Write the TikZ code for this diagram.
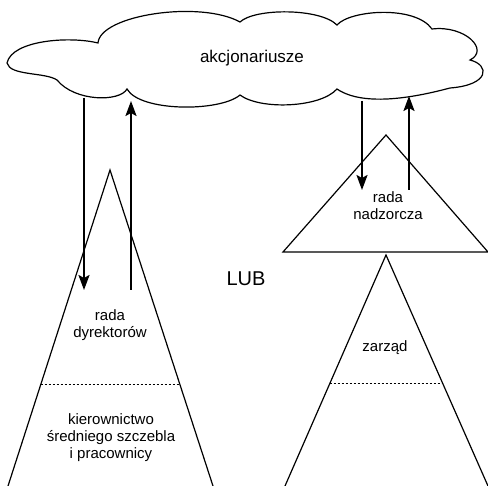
\documentclass[tikz,border=0pt]{standalone}
\usepackage{fontspec}
\setmainfont{Liberation Sans}
\usetikzlibrary{arrows.meta,calc}

\tikzset{
  flow/.style={line width=2.2pt,-{Stealth[length=15pt,width=11pt,inset=3pt]}},
  level/.style={line width=1.2pt},
  split/.style={line width=1.1pt,dash pattern=on 2pt off 2pt},
  label/.style={font=\fontsize{15}{17}\selectfont,align=center}
}

\begin{document}
\begin{tikzpicture}[x=1pt,y=-1pt]
  \useasboundingbox (0,0) rectangle (488,486);

  % Cloud of shareholders
  \draw[line width=1.2pt] (7,63)
    .. controls (12,40) and (70,36) .. (98,43)
    .. controls (100,15) and (200,0) .. (240,22)
    .. controls (255,8) and (320,8) .. (337,25)
    .. controls (350,10) and (415,5) .. (432,29)
    .. controls (465,25) and (490,50) .. (470,60)
    .. controls (490,65) and (490,85) .. (450,88)
    .. controls (420,96) and (365,108) .. (337,89)
    .. controls (320,108) and (260,110) .. (240,95)
    .. controls (220,112) and (140,112) .. (127,89)
    .. controls (120,102) and (75,102) .. (57,80)
    .. controls (45,72) and (10,76) .. (7,63) -- cycle;
  \node[font=\fontsize{17}{20}\selectfont] (owners) at (252,58) {akcjonariusze};

  % One-tier board
  \coordinate (boardtop) at (110,170);
  \coordinate (boardl) at (8,486);
  \coordinate (boardr) at (213,486);
  \draw[level] (boardl) -- (boardtop) -- (boardr);
  \draw[split] ($(boardtop)!0.68!(boardl)$) -- ($(boardtop)!0.68!(boardr)$);
  \node[label] (board) at (110,325) {rada\\dyrektorów};
  \node[label] (staff) at (111,438) {kierownictwo\\średniego szczebla\\i pracownicy};

  \node[font=\fontsize{20}{24}\selectfont] (or) at (246,279) {LUB};

  % Two-tier boards
  \coordinate (supertop) at (386,135);
  \coordinate (superl) at (283,252);
  \coordinate (superr) at (488,252);
  \draw[level] (superl) -- (supertop) -- (superr) -- cycle;
  \node[label] (super) at (388,206) {rada\\nadzorcza};

  \coordinate (mgmttop) at (386,255);
  \coordinate (mgmtl) at (285,486);
  \coordinate (mgmtr) at (488,486);
  \draw[level] (mgmtl) -- (mgmttop) -- (mgmtr);
  \draw[split] ($(mgmttop)!0.558!(mgmtl)$) -- ($(mgmttop)!0.558!(mgmtr)$);
  \node[label] (mgmt) at (385,348) {zarząd};

  % Arrows between shareholders and boards
  \coordinate (c1) at (84,98);
  \coordinate (b1) at (84,290);
  \coordinate (b2) at (131,290);
  \coordinate (c2) at (131,101);
  \coordinate (c3) at (362,101);
  \coordinate (s1) at (362,190);
  \coordinate (s2) at (409,190);
  \coordinate (c4) at (409,96);
  \draw[flow] (c1) -- (b1);
  \draw[flow] (b2) -- (c2);
  \draw[flow] (c3) -- (s1);
  \draw[flow] (s2) -- (c4);
\end{tikzpicture}
\end{document}
